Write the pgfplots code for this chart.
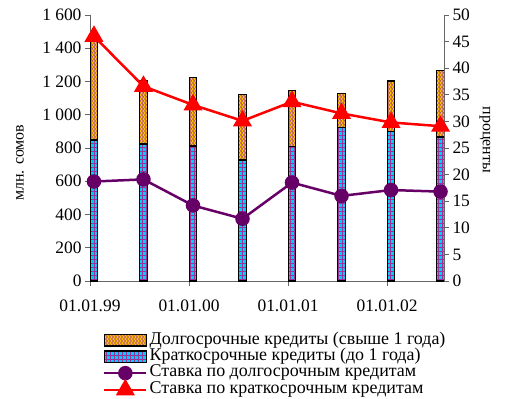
\documentclass[border=0pt]{standalone}
\usepackage{fontspec}
\setmainfont{Liberation Serif}
\usepackage{pgfplots}
\pgfplotsset{compat=1.18}
\usetikzlibrary{patterns.meta}
\definecolor{cyanb}{HTML}{00CCFF}
\definecolor{orangeb}{HTML}{FFC000}
\definecolor{patpurple}{HTML}{993399}
\definecolor{linepurple}{HTML}{660066}
\pgfdeclarepattern{
  name=vzigzag, type=uncolored,
  bottom left={\pgfpoint{-.5bp}{-.5bp}},
  top right={\pgfpoint{3.5bp}{4.5bp}},
  tile size={\pgfpoint{3bp}{4bp}},
  code={
    \pgfsetlinewidth{0.7bp}
    \pgfpathmoveto{\pgfpoint{0.5bp}{0bp}}
    \pgfpathlineto{\pgfpoint{2.5bp}{2bp}}
    \pgfpathlineto{\pgfpoint{0.5bp}{4bp}}
    \pgfusepath{stroke}
  }
}
\pgfdeclarepattern{
  name=smallbricks, type=uncolored,
  bottom left={\pgfpoint{-.5bp}{-.5bp}},
  top right={\pgfpoint{4.5bp}{4.5bp}},
  tile size={\pgfpoint{4bp}{4bp}},
  code={
    \pgfsetlinewidth{0.8bp}
    \pgfpathmoveto{\pgfpoint{0bp}{0bp}}
    \pgfpathlineto{\pgfpoint{4bp}{0bp}}
    \pgfpathmoveto{\pgfpoint{2bp}{0bp}}
    \pgfpathlineto{\pgfpoint{2bp}{4bp}}
    \pgfusepath{stroke}
  }
}
\tikzset{
  longbar/.style={preaction={fill=orangeb}, pattern=vzigzag, pattern color=patpurple, draw=black, line width=1.3bp},
  shortbar/.style={preaction={fill=cyanb}, pattern=smallbricks, pattern color=patpurple, draw=black, line width=1.3bp},
}
\pgfplotsset{
  mylegline/.style={legend image code/.code={\draw[##1, mark repeat=2, mark phase=2] plot coordinates {(0bp,0bp) (21bp,0bp) (42bp,0bp)};}},
}
\begin{document}
\begin{tikzpicture}
\begin{axis}[
  name=ax1,
  scale only axis, width=354bp, height=266bp,
  xmin=-0.08, xmax=7.07,
  ymin=0, ymax=1600,
  axis y line*=left, axis x line*=bottom,
  ybar stacked, bar width=7.5bp,
  xtick={-0.08,1.92,3.92,5.92},
  xticklabels={01.01.99,01.01.00,01.01.01,01.01.02},
  ytick={0,200,...,1600},
  tick align=outside,
  major tick length=5bp,
  axis line style={black!60, line width=0.8bp, -},
  tick style={black!60, line width=0.8bp},
  /pgf/number format/assume math mode=true,
  /pgf/number format/1000 sep={\ },
  ticklabel style={font=\fontsize{17.5}{20}\selectfont, black},
  xticklabel style={yshift=-10bp},
  ylabel={млн. сомов},
  every axis y label/.style={at={(axis description cs:0,0.445)}, xshift=-70bp, rotate=90, anchor=center, font=\fontsize{16}{18}\selectfont},
  clip=false,
]
\addplot+[shortbar, forget plot] coordinates {(0,848) (1,824) (2,812) (3,728) (4,808) (5,924) (6,898) (7,866)};
\addplot+[longbar, forget plot] coordinates {(0,602) (1,381) (2,411) (3,393) (4,337) (5,205) (6,305) (7,401)};
\coordinate (O) at (rel axis cs:0,0);
\end{axis}
\begin{axis}[
  scale only axis, width=354bp, height=266bp,
  xmin=-0.08, xmax=7.07,
  ymin=0, ymax=50,
  axis y line*=right, axis x line=none,
  ytick={0,5,...,50},
  tick align=outside,
  major tick length=5bp,
  axis line style={black!60, line width=0.8bp, -},
  tick style={black!60, line width=0.8bp},
  /pgf/number format/assume math mode=true,
  ticklabel style={font=\fontsize{17.5}{20}\selectfont, black},
  ylabel={проценты},
  every axis y label/.style={at={(axis description cs:1,0.53)}, xshift=41bp, rotate=-90, anchor=center, font=\fontsize{16}{18}\selectfont},
  clip=false,
  legend style={draw=none, fill=none, at={(axis description cs:0.028,-0.185)}, anchor=north west,
    font=\fontsize{18}{20}\selectfont, row sep=0pt,
    nodes={inner ysep=0pt, inner xsep=2bp, text height=11.8bp, text depth=4.5bp}},
  legend cell align=left,
]
\addlegendimage{legend image code/.code={\path[longbar] (0bp,-5.5bp) rectangle (42bp,6bp);}}
\addlegendentry{Долгосрочные кредиты (свыше 1 года)}
\addlegendimage{legend image code/.code={\path[shortbar] (0bp,-5.5bp) rectangle (42bp,6bp);}}
\addlegendentry{Краткосрочные кредиты (до 1 года)}
\addplot[linepurple, line width=2.5bp, mark=*, mark size=6bp, mylegline]
  coordinates {(0,18.7) (1,19.1) (2,14.2) (3,11.7) (4,18.5) (5,16.0) (6,17.1) (7,16.8)};
\addlegendentry{Ставка по долгосрочным кредитам}
\addplot[red, line width=2.5bp, mark=triangle*, mark size=8.5bp, mylegline]
  coordinates {(0,46.0) (1,36.6) (2,33.1) (3,30.1) (4,33.7) (5,31.5) (6,29.8) (7,29.1)};
\addlegendentry{Ставка по краткосрочным кредитам}
\end{axis}
\pgfresetboundingbox
\path ([shift={(-90bp,-118bp)}]O) rectangle ++(509bp,399bp);
\end{tikzpicture}
\end{document}
